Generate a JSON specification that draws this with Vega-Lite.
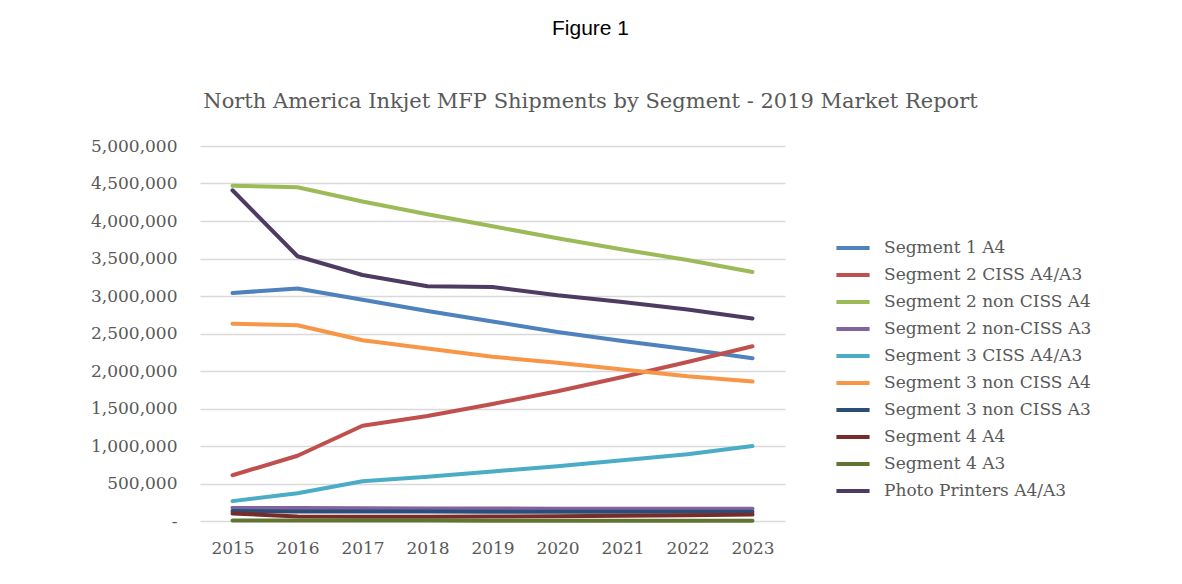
{
  "$schema": "https://vega.github.io/schema/vega-lite/v6.json",
  "width": 585,
  "height": 375,
  "autosize": {"type": "none"},
  "padding": {"left": 200, "top": 146, "right": 397, "bottom": 63},
  "background": "white",
  "title": {
    "text": "Figure 1",
    "subtitle": "North America Inkjet MFP Shipments by Segment - 2019 Market Report",
    "anchor": "middle",
    "frame": "group",
    "dx": 98,
    "font": "Liberation Sans",
    "fontSize": 21,
    "fontWeight": "normal",
    "color": "#000000",
    "subtitleFont": "DejaVu Serif",
    "subtitleFontSize": 21,
    "subtitleColor": "#595959",
    "subtitlePadding": 52,
    "offset": 25
  },
  "data": {
    "values": [
      {"year": "2015", "segment": "Segment 1 A4", "units": 3040000},
      {"year": "2016", "segment": "Segment 1 A4", "units": 3100000},
      {"year": "2017", "segment": "Segment 1 A4", "units": 2950000},
      {"year": "2018", "segment": "Segment 1 A4", "units": 2800000},
      {"year": "2019", "segment": "Segment 1 A4", "units": 2660000},
      {"year": "2020", "segment": "Segment 1 A4", "units": 2520000},
      {"year": "2021", "segment": "Segment 1 A4", "units": 2400000},
      {"year": "2022", "segment": "Segment 1 A4", "units": 2290000},
      {"year": "2023", "segment": "Segment 1 A4", "units": 2170000},
      {"year": "2015", "segment": "Segment 2 CISS A4/A3", "units": 610000},
      {"year": "2016", "segment": "Segment 2 CISS A4/A3", "units": 870000},
      {"year": "2017", "segment": "Segment 2 CISS A4/A3", "units": 1270000},
      {"year": "2018", "segment": "Segment 2 CISS A4/A3", "units": 1400000},
      {"year": "2019", "segment": "Segment 2 CISS A4/A3", "units": 1560000},
      {"year": "2020", "segment": "Segment 2 CISS A4/A3", "units": 1730000},
      {"year": "2021", "segment": "Segment 2 CISS A4/A3", "units": 1920000},
      {"year": "2022", "segment": "Segment 2 CISS A4/A3", "units": 2120000},
      {"year": "2023", "segment": "Segment 2 CISS A4/A3", "units": 2330000},
      {"year": "2015", "segment": "Segment 2 non CISS A4", "units": 4470000},
      {"year": "2016", "segment": "Segment 2 non CISS A4", "units": 4450000},
      {"year": "2017", "segment": "Segment 2 non CISS A4", "units": 4260000},
      {"year": "2018", "segment": "Segment 2 non CISS A4", "units": 4090000},
      {"year": "2019", "segment": "Segment 2 non CISS A4", "units": 3930000},
      {"year": "2020", "segment": "Segment 2 non CISS A4", "units": 3770000},
      {"year": "2021", "segment": "Segment 2 non CISS A4", "units": 3620000},
      {"year": "2022", "segment": "Segment 2 non CISS A4", "units": 3480000},
      {"year": "2023", "segment": "Segment 2 non CISS A4", "units": 3320000},
      {"year": "2015", "segment": "Segment 2 non-CISS A3", "units": 175000},
      {"year": "2016", "segment": "Segment 2 non-CISS A3", "units": 172000},
      {"year": "2017", "segment": "Segment 2 non-CISS A3", "units": 170000},
      {"year": "2018", "segment": "Segment 2 non-CISS A3", "units": 168000},
      {"year": "2019", "segment": "Segment 2 non-CISS A3", "units": 166000},
      {"year": "2020", "segment": "Segment 2 non-CISS A3", "units": 164000},
      {"year": "2021", "segment": "Segment 2 non-CISS A3", "units": 163000},
      {"year": "2022", "segment": "Segment 2 non-CISS A3", "units": 162000},
      {"year": "2023", "segment": "Segment 2 non-CISS A3", "units": 162000},
      {"year": "2015", "segment": "Segment 3 CISS A4/A3", "units": 265000},
      {"year": "2016", "segment": "Segment 3 CISS A4/A3", "units": 370000},
      {"year": "2017", "segment": "Segment 3 CISS A4/A3", "units": 530000},
      {"year": "2018", "segment": "Segment 3 CISS A4/A3", "units": 590000},
      {"year": "2019", "segment": "Segment 3 CISS A4/A3", "units": 660000},
      {"year": "2020", "segment": "Segment 3 CISS A4/A3", "units": 730000},
      {"year": "2021", "segment": "Segment 3 CISS A4/A3", "units": 810000},
      {"year": "2022", "segment": "Segment 3 CISS A4/A3", "units": 890000},
      {"year": "2023", "segment": "Segment 3 CISS A4/A3", "units": 1000000},
      {"year": "2015", "segment": "Segment 3 non CISS A4", "units": 2630000},
      {"year": "2016", "segment": "Segment 3 non CISS A4", "units": 2610000},
      {"year": "2017", "segment": "Segment 3 non CISS A4", "units": 2410000},
      {"year": "2018", "segment": "Segment 3 non CISS A4", "units": 2300000},
      {"year": "2019", "segment": "Segment 3 non CISS A4", "units": 2190000},
      {"year": "2020", "segment": "Segment 3 non CISS A4", "units": 2110000},
      {"year": "2021", "segment": "Segment 3 non CISS A4", "units": 2020000},
      {"year": "2022", "segment": "Segment 3 non CISS A4", "units": 1930000},
      {"year": "2023", "segment": "Segment 3 non CISS A4", "units": 1860000},
      {"year": "2015", "segment": "Segment 3 non CISS A3", "units": 132000},
      {"year": "2016", "segment": "Segment 3 non CISS A3", "units": 128000},
      {"year": "2017", "segment": "Segment 3 non CISS A3", "units": 127000},
      {"year": "2018", "segment": "Segment 3 non CISS A3", "units": 126000},
      {"year": "2019", "segment": "Segment 3 non CISS A3", "units": 125000},
      {"year": "2020", "segment": "Segment 3 non CISS A3", "units": 124000},
      {"year": "2021", "segment": "Segment 3 non CISS A3", "units": 123000},
      {"year": "2022", "segment": "Segment 3 non CISS A3", "units": 122000},
      {"year": "2023", "segment": "Segment 3 non CISS A3", "units": 122000},
      {"year": "2015", "segment": "Segment 4 A4", "units": 100000},
      {"year": "2016", "segment": "Segment 4 A4", "units": 60000},
      {"year": "2017", "segment": "Segment 4 A4", "units": 58000},
      {"year": "2018", "segment": "Segment 4 A4", "units": 58000},
      {"year": "2019", "segment": "Segment 4 A4", "units": 60000},
      {"year": "2020", "segment": "Segment 4 A4", "units": 64000},
      {"year": "2021", "segment": "Segment 4 A4", "units": 70000},
      {"year": "2022", "segment": "Segment 4 A4", "units": 76000},
      {"year": "2023", "segment": "Segment 4 A4", "units": 85000},
      {"year": "2015", "segment": "Segment 4 A3", "units": 6000},
      {"year": "2016", "segment": "Segment 4 A3", "units": 6000},
      {"year": "2017", "segment": "Segment 4 A3", "units": 6000},
      {"year": "2018", "segment": "Segment 4 A3", "units": 6000},
      {"year": "2019", "segment": "Segment 4 A3", "units": 5000},
      {"year": "2020", "segment": "Segment 4 A3", "units": 5000},
      {"year": "2021", "segment": "Segment 4 A3", "units": 5000},
      {"year": "2022", "segment": "Segment 4 A3", "units": 5000},
      {"year": "2023", "segment": "Segment 4 A3", "units": 5000},
      {"year": "2015", "segment": "Photo Printers A4/A3", "units": 4410000},
      {"year": "2016", "segment": "Photo Printers A4/A3", "units": 3530000},
      {"year": "2017", "segment": "Photo Printers A4/A3", "units": 3280000},
      {"year": "2018", "segment": "Photo Printers A4/A3", "units": 3130000},
      {"year": "2019", "segment": "Photo Printers A4/A3", "units": 3120000},
      {"year": "2020", "segment": "Photo Printers A4/A3", "units": 3010000},
      {"year": "2021", "segment": "Photo Printers A4/A3", "units": 2920000},
      {"year": "2022", "segment": "Photo Printers A4/A3", "units": 2820000},
      {"year": "2023", "segment": "Photo Printers A4/A3", "units": 2700000}
    ]
  },
  "mark": {"type": "line", "strokeWidth": 4, "strokeCap": "round", "strokeJoin": "round"},
  "encoding": {
    "x": {
      "field": "year",
      "type": "ordinal",
      "scale": {"type": "point", "padding": 0.5},
      "axis": {
        "title": null,
        "labelAngle": 0,
        "domain": false,
        "ticks": false,
        "grid": false,
        "labelFont": "DejaVu Serif",
        "labelFontSize": 17,
        "labelColor": "#595959",
        "labelPadding": 19
      }
    },
    "y": {
      "field": "units",
      "type": "quantitative",
      "scale": {"domain": [0, 5000000], "nice": false},
      "axis": {
        "title": null,
        "values": [0, 500000, 1000000, 1500000, 2000000, 2500000, 3000000, 3500000, 4000000, 4500000, 5000000],
        "labelExpr": "datum.value === 0 ? '-' : format(datum.value, ',')",
        "domain": false,
        "ticks": false,
        "grid": true,
        "gridColor": "#d9d9d9",
        "gridWidth": 1.5,
        "labelFont": "DejaVu Serif",
        "labelFontSize": 17,
        "labelColor": "#595959",
        "labelPadding": 23
      }
    },
    "color": {
      "field": "segment",
      "type": "nominal",
      "sort": null,
      "scale": {
        "domain": ["Segment 1 A4", "Segment 2 CISS A4/A3", "Segment 2 non CISS A4", "Segment 2 non-CISS A3", "Segment 3 CISS A4/A3", "Segment 3 non CISS A4", "Segment 3 non CISS A3", "Segment 4 A4", "Segment 4 A3", "Photo Printers A4/A3"],
        "range": ["#4F81BD", "#C0504D", "#9BBB59", "#8064A2", "#4BACC6", "#F79646", "#2C4D75", "#772C2A", "#5F7530", "#4D3B62"]
      },
      "legend": {
        "title": null,
        "orient": "none",
        "legendX": 634,
        "legendY": 83,
        "symbolType": "stroke",
        "symbolStrokeWidth": 4,
        "symbolSize": 1100,
        "labelFont": "DejaVu Serif",
        "labelFontSize": 17,
        "labelColor": "#595959",
        "labelLimit": 300,
        "labelOffset": 12,
        "rowPadding": 0
      }
    }
  },
  "config": {"view": {"stroke": null}}
}
